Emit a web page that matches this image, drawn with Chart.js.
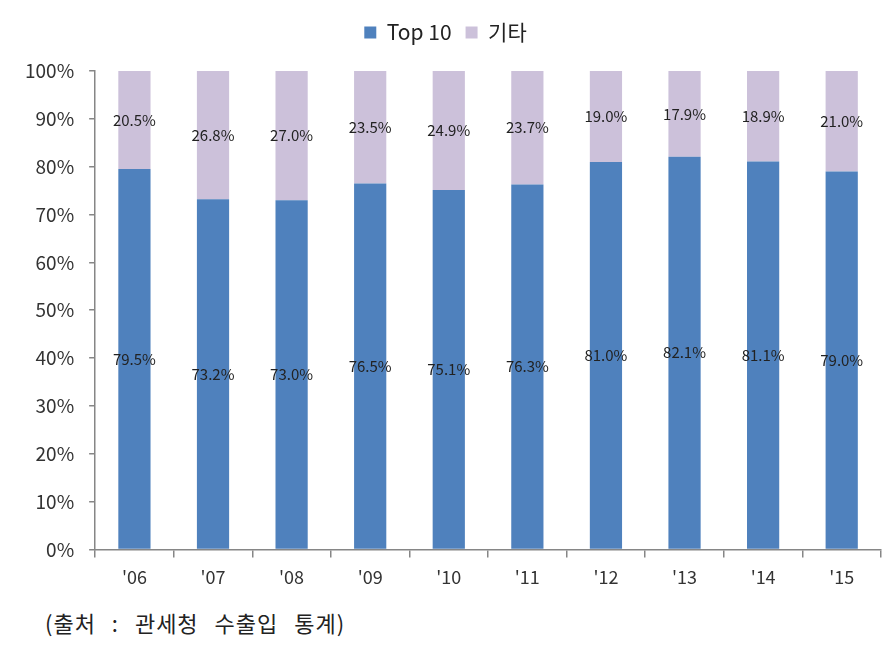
<!DOCTYPE html>
<html>
<head>
<meta charset="utf-8">
<script src="https://cdn.jsdelivr.net/npm/chart.js@4"></script>
<style>
  body { margin: 0; background: #fff; }
  #wrap { position: relative; width: 891px; height: 600px; }
  #source { position: absolute; left: 45px; top: 606px; font: 22px "Noto Sans CJK KR", sans-serif; color: #222; letter-spacing: 1px; word-spacing: 10px; }
</style>
</head>
<body>
<div id="wrap"><canvas id="myChart"></canvas></div>
<div id="source">(출처 : 관세청 수출입 통계)</div>
<script>
// data
var years = ["'06", "'07", "'08", "'09", "'10", "'11", "'12", "'13", "'14", "'15"];
var top10 = [79.5, 73.2, 73.0, 76.5, 75.1, 76.3, 81.0, 82.1, 81.1, 79.0];
var others = [20.5, 26.8, 27.0, 23.5, 24.9, 23.7, 19.0, 17.9, 18.9, 21.0];
var yTicks = [0, 10, 20, 30, 40, 50, 60, 70, 80, 90, 100];

var fontFam = "'Noto Sans CJK KR', 'Noto Sans', sans-serif";

// labels in the middle of each segment
var segLabels = {
  id: 'segLabels',
  afterDatasetsDraw: function(chart) {
    var ctx = chart.ctx;
    ctx.save();
    ctx.font = "15px " + fontFam;
    ctx.fillStyle = "#222";
    ctx.textAlign = "center";
    ctx.textBaseline = "middle";
    chart.data.datasets.forEach(function(ds, i) {
      chart.getDatasetMeta(i).data.forEach(function(bar, j) {
        var mid = (bar.y + bar.base) / 2;
        ctx.fillText(ds.data[j].toFixed(1) + '%', bar.x, mid);
      });
    });
    ctx.restore();
  }
};

// extra room under the legend
var legendGap = {
  id: 'legendGap',
  beforeInit: function(chart) {
    var fit = chart.legend.fit;
    chart.legend.fit = function() {
      fit.bind(chart.legend)();
      this.height += 18;
    };
  }
};

new Chart(document.getElementById('myChart'), {
  type: 'bar',
  data: {
    labels: years,
    datasets: [
      { label: 'Top 10', data: top10, backgroundColor: '#4F81BD', barPercentage: 0.41, categoryPercentage: 1 },
      { label: '기타', data: others, backgroundColor: '#CCC1DA', barPercentage: 0.41, categoryPercentage: 1 }
    ]
  },
  options: {
    responsive: true,
    maintainAspectRatio: false,
    animation: false,
    layout: { padding: { top: 8, right: 10, left: 10, bottom: 3 } },
    plugins: {
      legend: {
        position: 'top',
        labels: {
          boxWidth: 12,
          boxHeight: 12,
          padding: 14,
          color: '#222',
          font: { size: 21, family: fontFam }
        }
      },
      tooltip: { enabled: false }
    },
    scales: {
      x: {
        stacked: true,
        border: { color: '#868686', width: 1.5 },
        grid: { drawOnChartArea: false, drawTicks: true, tickLength: 8, color: '#868686', lineWidth: 1.5 },
        ticks: { color: '#333', padding: 9, font: { size: 18, family: fontFam } }
      },
      y: {
        stacked: true,
        min: 0,
        max: 100,
        afterBuildTicks: function(axis) {
          axis.ticks = yTicks.map(function(v) { return { value: v }; });
        },
        border: { color: '#868686', width: 1.5 },
        grid: { drawOnChartArea: false, drawTicks: true, tickLength: 6, color: '#868686', lineWidth: 1.5 },
        ticks: {
          color: '#333',
          padding: 15,
          font: { size: 19, family: fontFam },
          callback: function(value) { return value + '%'; }
        }
      }
    }
  },
  plugins: [segLabels, legendGap]
});
</script>
</body>
</html>
